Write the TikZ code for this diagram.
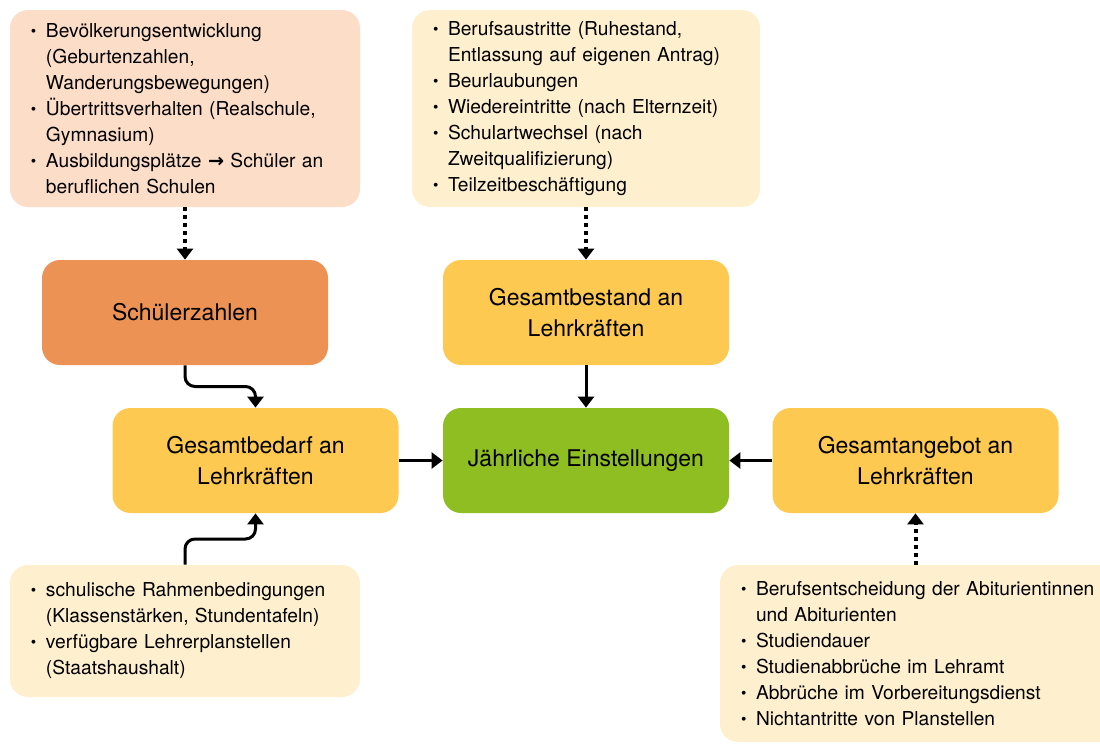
\documentclass[tikz,border=0pt]{standalone}
\usepackage{fontspec}
\setmainfont{TeX Gyre Heros}
\newfontfamily\arrowfont{DejaVu Sans}
\usepackage{graphicx}
\usetikzlibrary{positioning,arrows.meta,calc}
\definecolor{peachbox}{RGB}{252,221,200}
\definecolor{creambox}{RGB}{254,239,207}
\definecolor{orangebox}{RGB}{237,146,85}
\definecolor{yellowbox}{RGB}{254,201,80}
\definecolor{greenbox}{RGB}{143,190,34}
\newcommand{\itm}{\makebox[7.5pt][l]{\raisebox{0.1ex}{\scalebox{0.8}{\textbullet}}}}
\newcommand{\cnt}{\hspace*{7.5pt}}
\tikzset{
  info/.style ={fill=creambox, rounded corners=9pt, align=left, inner xsep=10.5pt,
                font=\fontsize{9.6}{13}\selectfont},
  mainbox/.style={fill=yellowbox, rounded corners=9pt, align=center, minimum width=143pt,
                minimum height=52.5pt, font=\fontsize{11.5}{15.5}\selectfont},
  arr/.style  ={-{Triangle[length=5.5pt,width=8pt]}, line width=1.5pt},
  darr/.style ={-{Triangle[length=5.5pt,width=8pt]}, line width=2pt, dash pattern=on 2pt off 2pt},
}

\begin{document}
\begin{tikzpicture}[x=0.5pt,y=-0.5pt]
\clip (0,0) rectangle (1100,745);
% info boxes
\node[info,fill=peachbox,minimum width=175pt,minimum height=98.5pt,text width=154pt] (demo) at (185,108.5)
  {\itm Bevölkerungsentwicklung\\ \cnt(Geburtenzahlen,\\ \cnt Wanderungsbewegungen)\\
   \itm Übertrittsverhalten (Realschule,\\ \cnt Gymnasium)\\
   \itm Ausbildungsplätze {\arrowfont\bfseries →} Schüler an\\ \cnt beruflichen Schulen};
\node[info,minimum width=174pt,minimum height=98.5pt,text width=153pt] (fluct) at (586,108.5)
  {\itm Berufsaustritte (Ruhestand,\\ \cnt Entlassung auf eigenen Antrag)\\
   \itm Beurlaubungen\\
   \itm Wiedereintritte (nach Elternzeit)\\
   \itm Schulartwechsel (nach\\ \cnt Zweitqualifizierung)\\
   \itm Teilzeitbeschäftigung};
\node[info,minimum width=175pt,minimum height=66pt,text width=154pt] (frame) at (185,631)
  {\itm schulische Rahmenbedingungen\\ \cnt(Klassenstärken, Stundentafeln)\\
   \itm verfügbare Lehrerplanstellen\\ \cnt(Staatshaushalt)};
\node[info,minimum width=212pt,minimum height=88.5pt,text width=191pt] (supply) at (932,653.5)
  {\itm Berufsentscheidung der Abiturientinnen\\ \cnt und Abiturienten\\
   \itm Studiendauer\\
   \itm Studienabbrüche im Lehramt\\
   \itm Abbrüche im Vorbereitungsdienst\\
   \itm Nichtantritte von Planstellen};
% main boxes
\node[mainbox,fill=orangebox] (schueler) at (185,312.5) {Schülerzahlen};
\node[mainbox] (bestand) at (586,312.5) {Gesamtbestand an\\ Lehrkräften};
\node[mainbox] (bedarf) at (255.5,460.5) {Gesamtbedarf an\\ Lehrkräften};
\node[mainbox,fill=greenbox] (einst) at (586,460.5) {Jährliche Einstellungen};
\node[mainbox] (angebot) at (915.5,460.5) {Gesamtangebot an\\ Lehrkräften};
% connectors
\draw[darr] (demo.south) -- (schueler.north);
\draw[darr] (fluct.south) -- (bestand.north);
\draw[darr] (angebot.south |- supply.north) -- (angebot.south);
\draw[arr] (bestand) -- (einst);
\draw[arr] (bedarf) -- (einst);
\draw[arr] (angebot) -- (einst);
\draw[arr,rounded corners=5pt] (schueler.south) |- ($(schueler.south)!0.5!(bedarf.north)$) -| (bedarf.north);
\draw[arr,rounded corners=5pt] (frame.north) |- ($(frame.north)!0.5!(bedarf.south)$) -| (bedarf.south);
\end{tikzpicture}
\end{document}
